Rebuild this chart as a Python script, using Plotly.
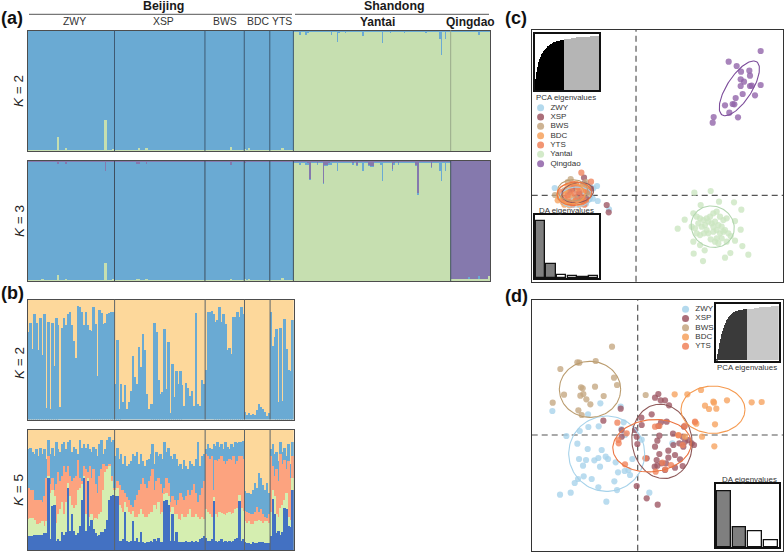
import numpy as np
import plotly.graph_objects as go

W, H = 784, 552
FONT = "Liberation Sans"

# ---------- group sizes ----------
group_names = ["ZWY", "XSP", "BWS", "BDC", "YTS", "Yantai", "Qingdao"]
group_sizes = [44, 46, 20, 13, 12, 80, 20]

# ---------- panel a, K=2 (percent) ----------
a2_green_beijing = ([0.7]*15 + [12] + [0.7]*3 + [2.5] + [0.7]*19 + [26] + [0.7]*3 + [2] +
                    [0.7]*12 + [3] + [0.7]*3 + [2.5] + [0.7]*29 +
                    [0.7]*13 + [3.5] + [0.7]*6 +
                    [2, 0.7, 2.5] + [0.7]*10 +
                    [0.7]*6 + [3] + [0.7]*5)
a2_blue_yantai = [1,1,1,3,1,1,3,2,1,1, 1,1,1,1,1,1,1,1,1,3, 1,1,9,2,1,1,2,1,1,1, 1,1,1,1,1,4,1,1,1,1,
                  1,1,1,1,1,10,1,1,1,2, 1,1,1,1,1,1,2,1,1,1, 1,1,1,1,1,1,1,2,1,1, 1,1,1,1,7,20,1,7,1,1]
a2_blue_qingdao = [1,1,1,1,1,1,1,1,1,1,1,1,1,1,3,1,1,1,1,1]

# ---------- panel a, K=3 (percent) ----------
a3_green_beijing = ([0.5]*7 + [1] + [0.5]*7 + [5] + [0.5]*3 + [1.5] + [0.5]*19 + [15] + [0.5]*3 + [2] +
                    [0.5]*11 + [2, 2] + [0.5]*3 + [2] + [0.5]*29 +
                    [0.5]*13 + [1.5] + [0.5]*6 +
                    [2, 0.5, 1.5] + [0.5]*10 +
                    [0.5]*6 + [2.5] + [0.5]*5)
a3_purple_beijing = ([0.7]*15 + [2.5] + [0.7]*3 + [2.5] + [0.7]*19 + [8] + [0.7]*4 +
                     [0.7]*11 + [2.5, 2.5] + [0.7]*3 + [2.5] + [0.7]*29 +
                     [0.7]*13 + [3] + [0.7]*6 +
                     [2] + [0.7]*12 + [0.7]*12)
a3_blue_yantai = [1,1,1,2,1,1,2,1,1,1, 1,1,1,1,1,1,1,1,1,2, 1,1,7,1,1,1,1,1,1,1, 1,1,1,1,1,7,1,1,1,1,
                  1,1,1,1,2,16,1,1,1,1, 1,1,1,1,1,1,1,1,1,1, 1,1,1,1,1,1,1,1,1,1, 1,1,1,1,7,16,1,7,1,1]
a3_purple_yantai = [1,1,1,1,1,1,1,2,15,1, 1,1,2,1,1,18,3,3,2,1, 1,1,1,1,1,1,1,1,1,1, 2,1,3,1,1,1,1,1,3,4,
                    4,1,1,1,1,1,1,1,1,1, 7,2,1,2,1,1,1,1,1,1, 1,1,3,27,1,1,1,1,1,1, 5,1,1,1,1,1,1,1,1,1]
a3_green_qingdao = [1,1,1,2,1,1,1,1,1,2,1,1,1,1,2,1,1,1,2,4]
a3_blue_qingdao = [0,0,0,0,0,0,0,0,0,1,0,0,0,0,2,0,0,0,0,0]

# ---------- panel b, K=2: blue height, percent ----------
b2_blue = [73,81,59,88,81,58,85,54,88,10,82,9,81,45,85,79,11,77,85,79,88,90,79,66,52,95,94,90,79,90,79,75,74,94,80,37,92,89,80,81,88,89,90,90,
           30,67,9,30,15,29,9,15,24,53,36,30,61,44,72,58,22,9,13,13,81,73,33,22,23,76,26,65,6,47,19,41,30,41,29,12,31,27,20,24,12,89,13,12,33,30,
           42,90,90,91,88,82,83,94,82,88,80,58,60,55,86,86,90,86,94,88,
           7,4,6,4,5,4,8,13,11,9,7,3,6,
           90,62,69,76,15,77,16,84,59,42,41,83]

# ---------- panel b, K=5: cumulative tops, percent ----------
b5_dark = [12,12,12,13,13,13,13,13,14,14,60,9,37,38,8,9,8,15,13,15,52,16,30,16,13,14,20,42,60,16,58,20,25,18,14,12,13,15,15,18,25,42,45,46,
           45,45,8,8,9,32,8,7,8,24,8,10,7,15,7,6,7,7,8,7,9,8,10,7,7,41,42,38,8,30,8,15,7,7,7,7,8,7,7,8,7,8,7,9,10,12,
           10,8,8,9,41,8,7,8,9,7,8,7,8,7,8,9,10,41,8,9,
           7,6,6,5,7,6,6,7,7,7,6,6,6,
           12,43,30,14,16,13,15,35,34,20,19,50]
b5_green = [26,27,27,25,22,22,23,24,20,24,62,48,50,45,23,30,34,40,30,40,56,45,38,35,38,50,52,55,62,30,60,28,30,25,27,26,30,32,50,65,68,70,58,50,
            50,52,38,35,32,40,36,32,30,33,28,28,30,34,30,28,28,30,32,32,38,34,40,30,32,47,48,45,32,36,30,30,26,25,30,28,28,30,34,28,28,30,28,26,28,26,
            34,32,30,28,44,30,28,32,31,30,29,31,32,30,31,34,35,46,35,33,
            24,23,24,22,22,24,24,25,24,23,24,24,23,
            32,50,45,30,28,35,38,42,48,28,25,60]
b5_salmon = [52,50,50,42,42,42,42,40,45,60,78,55,60,50,55,65,58,62,70,65,70,62,58,60,62,75,60,58,70,68,65,70,60,68,55,48,62,68,72,70,70,72,62,52,
             52,58,54,50,50,48,44,42,38,36,42,46,50,55,60,55,52,58,62,68,50,58,60,55,48,52,60,56,40,45,42,38,42,48,44,42,45,50,46,50,55,48,40,46,52,58,
             80,78,76,78,50,75,74,76,78,74,72,74,76,75,78,72,74,78,78,76,
             33,32,31,30,30,32,36,32,34,30,28,27,30,
             78,70,62,68,58,80,72,75,68,74,60,78]
b5_blue = [84,85,82,80,84,78,85,80,84,76,92,80,85,78,90,84,82,88,90,84,90,92,82,86,84,80,92,85,88,85,88,84,82,86,84,78,88,92,80,84,92,94,90,92,
           78,85,76,80,72,78,70,72,74,80,78,82,72,80,74,70,75,76,80,88,72,82,78,80,76,90,82,85,78,76,80,76,70,72,68,75,70,68,74,72,70,76,90,70,78,80,
           84,88,85,84,88,87,90,86,88,84,90,86,84,88,86,90,89,90,90,91,
           49,48,48,47,50,56,52,64,60,54,50,56,48,
           84,88,80,82,74,90,82,85,78,88,72,90]

# ---------- panel c: DA scores ----------
c_zwy_x = [-244,-117,-115,-81,-128,-138,-190,-150,-170,-130,-180,-200,-160,-140,-165]
c_zwy_y = [22,28,-17,-42,21,26,-10,-25,-22,-10,15,-5,10,-12,-15]
c_xsp_x = [-88,-82,-156,-155,-170,-190,-145,-175,-150,-200,-135,-185]
c_xsp_y = [-29,-51,53,35,5,20,10,-5,-8,10,20,30]
c_bws_x = [-196,-243,-205,-160,-150,-215,-180,-140]
c_bws_y = [49,1,40,30,40,15,-8,5]
c_bdc_x = [-235,-225,-230,-220,-215,-200,-190,-185,-215,-210,-205,-195,-180,-170,-160,-205,-195,-175,-165,-155,-145,-210]
c_bdc_y = [-15,-10,-5,-20,-28,-30,-25,-18,5,15,25,30,35,-28,-20,-10,0,20,25,15,25,-18]
c_yts_x = [-164,-135,-190,-225,-180,-200,-170,-160,-150,-195,-185,-175,-165,-205,-215,-150,-155,-190]
c_yts_y = [68,41,35,10,-15,-20,10,-5,15,15,5,25,-10,0,-10,-18,-28,-28]
c_yan_x = [175,224,194,249,294,316,146,125,172,182,192,202,212,222,232,242,252,262,272,297,314,167,177,187,197,207,217,227,237,247,257,267,277,284,192,204,217,232,242,252,262,172,192,224,237,247,257,272,297,319,173,206,201,267,283,337,232,212,182,242]
c_yan_y = [8,13,-29,-19,-21,-43,-73,-100,-54,-64,-69,-74,-69,-64,-54,-49,-64,-74,-69,-77,-103,-94,-99,-84,-94,-89,-79,-84,-79,-89,-94,-104,-114,-122,-119,-114,-114,-109,-104,-114,-109,-139,-149,-132,-139,-144,-129,-139,-136,-152,-175,-165,-197,-187,-173,-178,-94,-104,-114,-129]
c_qin_x = [374,278,302,340,315,342,314,324,314,342,374,347,320,357,299,290,295,267,280,306,233,230]
c_qin_y = [433,401,388,374,371,359,348,341,328,328,331,329,304,300,292,274,273,270,248,234,235,218]

# ---------- panel d: DA scores ----------
d_zwy_x = [-256,-112,-149,-214,-174,-148,-117,-42,-181,-150,-108,12,104,-176,-155,-130,-118,-96,-89,-66,-16,-164,-113,-59,-39,-28,-23,-162,-138,-179,-189,-70,-118,-62,-233,-201,-94,35,-38,-49,-8,-51]
d_zwy_y = [72,95,62,-3,12,24,26,38,-26,-42,-45,-14,-25,-72,-75,-76,-69,-65,-72,-82,-72,-92,-95,-112,-108,-105,-120,-124,-132,-132,-144,-139,-157,-165,-179,-173,-200,-173,0,18,15,85]
d_xsp_x = [-51,62,52,69,82,94,11,42,-103,87,70,62,12,-8,-48,-48,139,106,65,59,52,125,135,142,152,162,169,137,107,92,112,65,57,92,59,51,72,85,112,135,127,82,-3,27,60,-1,27,-3]
d_xsp_y = [79,123,112,104,104,89,52,62,43,40,38,27,30,15,15,-5,25,4,-2,-17,-35,-25,-5,-20,-15,-25,-30,-35,-30,-47,-60,-57,-75,-68,-92,-95,-85,-85,-98,-93,-73,-105,-153,-190,-209,-27,-70,-5]
d_bws_x = [-77,-181,-175,-126,-232,-71,-62,-170,-165,-128,-221,-172,-163,-102,-154,-142,-255,-178,-168,24]
d_bws_y = [265,218,217,222,198,172,150,143,140,145,121,118,123,117,107,92,97,74,60,120]
d_bdc_x = [111,149,190,227,229,268,202,214,236,342,372,172,176,232,193,230,122,142]
d_bdc_y = [122,122,135,100,97,104,88,78,79,98,99,38,34,32,-5,-34,0,-5]
d_yts_x = [-61,-58,-57,-38,23,54,83,74,100,135,122,65,172,142,52,-33]
d_yts_y = [37,-15,-25,-88,-70,-110,-103,-83,-90,-30,-1,27,40,28,25,5]

# ---------- ellipses: centre x, centre y, semi-axes, rotation ----------
c_ell = {"ZWY": (-180,-5,50,30,5), "XSP": (-175,8,48,30,10), "BWS": (-190,15,45,32,0), "BDC": (-195,5,42,30,0),
         "YTS": (-185,5,52,35,5), "Yantai": (230,-94,66,61,-30), "Qingdao": (310,321,95,37,57)}
d_ell = {"ZWY": (-93,-56,114,113,0), "XSP": (73,-19,112,90,99), "BWS": (-143,137,92,84,0),
         "BDC": (226,76,96,71,0), "YTS": (43,-32,118,78,6)}

# ---------- insets ----------
c_pca_vals = [5,20,32,42,50,56,60,64,67,70,72,74,76,78,79,80,82,83,84,85,85,86,87,87,88,88,89,89,90,90,
              91,91,91,92,92,92,92,93,93,93,93,93,94,94,94,94,94,94,95,95,95,95,95,95,95,95,96,96,96,96,96,96,96,96,96]
c_pca_kept = 30
c_da_vals = [170,41,10,5,3,6]
c_da_kept = 2
d_pca_vals = [3,12,20,30,38,46,52,58,63,67,71,74,77,79,81,83,84,85,86,87,88,88,89,89,90,90,91,91,91,91,
              91,91,92,92,92,92,92,93,93,93,93,93,94,94,94,94,94,95,95,95,95,95,95,96,96,96,96,96,96,97]
d_pca_kept = 30
d_da_vals = [168,58,46,20]
d_da_kept = 2

leg_c = ["ZWY","XSP","BWS","BDC","YTS","Yantai","Qingdao"]
leg_d = ["ZWY","XSP","BWS","BDC","YTS"]

C = dict(blue="#6aaad3", green="#c6dfb0", purple="#8579ad", yellow="#fdd89b", dark="#4371c2",
         salmon="#fca37f", lgreen="#d5eeb0")
PT = {"ZWY":"#a6d2ea","XSP":"#9c5562","BWS":"#c4a680","BDC":"#f6a15d","YTS":"#f0825a","Yantai":"#cbe6c0","Qingdao":"#8f62a8"}
ELC = {"ZWY":"#a6d2ea","XSP":"#8f5a5a","BWS":"#bb9d70","BDC":"#f59a50","YTS":"#ec7440","Yantai":"#b3d6b0","Qingdao":"#7c4c9a"}

fig = go.Figure()
layout = {}
shapes, annots = [], []
ax_n = [0]


def add_axes(x0, x1, y0, y1, xr, yr, line="#4d4d4d", lw=1, show=True, cat=False):
    ax_n[0] += 1
    n = ax_n[0]
    s = "" if n == 1 else str(n)
    common = dict(showgrid=False, zeroline=False, showticklabels=False, ticks="", fixedrange=True,
                  showline=show, mirror=show, linecolor=line, linewidth=lw)
    layout["xaxis"+s] = dict(domain=[x0/W, x1/W], range=xr, anchor="y"+s, **common)
    layout["yaxis"+s] = dict(domain=[1-y1/H, 1-y0/H], range=yr, anchor="x"+s, **common)
    if cat:
        layout["yaxis"+s]["type"] = "category"
    return "x"+s, "y"+s


def bars(xa, ya, vals, color):
    fig.add_trace(go.Bar(x=list(range(len(vals))), y=vals, width=1.0, marker=dict(color=color, line=dict(width=0)),
                         xaxis=xa, yaxis=ya, showlegend=False, hoverinfo="skip"))


def seps(xa, ya, sizes, color, lw=1, colors=None):
    pos = np.cumsum(sizes)[:-1] - 0.5
    for i, p in enumerate(pos):
        shapes.append(dict(type="line", xref=xa, yref=ya+" domain", x0=p, x1=p, y0=0, y1=1,
                           line=dict(color=colors[i] if colors else color, width=lw), layer="above"))


def text(x, y, t, size, bold=False, color="#1a1a1a", angle=0, anchor="center"):
    if bold:
        t = "<b>"+t+"</b>"
    annots.append(dict(x=x/W, y=1-y/H, xref="paper", yref="paper", text=t, showarrow=False, xanchor=anchor,
                       yanchor="middle", textangle=angle, font=dict(family=FONT, size=size, color=color)))


def ellipse(xa, ya, par, color):
    cx, cy, a, b, ang = par
    t = np.linspace(0, 2*np.pi, 120)
    r = np.radians(ang)
    ex = cx + a*np.cos(t)*np.cos(r) - b*np.sin(t)*np.sin(r)
    ey = cy + a*np.cos(t)*np.sin(r) + b*np.sin(t)*np.cos(r)
    fig.add_trace(go.Scatter(x=ex, y=ey, mode="lines", line=dict(color=color, width=1.1), xaxis=xa, yaxis=ya,
                             showlegend=False, hoverinfo="skip"))


def points(xa, ya, xs, ys, color):
    fig.add_trace(go.Scatter(x=xs, y=ys, mode="markers", marker=dict(color=color, size=6.2, opacity=0.78, line=dict(width=0)),
                             xaxis=xa, yaxis=ya, showlegend=False, hoverinfo="skip"))


def pca_inset(box, vals, kept, c1, c2):
    xa, ya = add_axes(*box, [-0.5, len(vals)-0.5], [0, 100], line="#111111", lw=1.6)
    fig.add_trace(go.Bar(x=list(range(len(vals))), y=vals, width=1.0,
                         marker=dict(color=[c1]*kept+[c2]*(len(vals)-kept), line=dict(width=0)),
                         xaxis=xa, yaxis=ya, showlegend=False, hoverinfo="skip"))


def da_inset(box, vals, kept, ymax, x_pad):
    xa, ya = add_axes(*box, [-0.5-x_pad, len(vals)-0.5+x_pad], [-1, ymax], line="#111111", lw=1.6)
    fig.add_trace(go.Bar(x=list(range(len(vals))), y=vals, width=0.86,
                         marker=dict(color=["#7f7f7f"]*kept+["#ffffff"]*(len(vals)-kept), line=dict(color="#111111", width=1.3)),
                         xaxis=xa, yaxis=ya, showlegend=False, hoverinfo="skip"))


def dot_legend(box, names, x_range, size):
    xa, ya = add_axes(*box, x_range, [len(names)-0.5, -0.5], show=False, cat=True)
    fig.add_trace(go.Scatter(x=[0]*len(names), y=names, mode="markers+text", text=["  "+n for n in names], textposition="middle right",
                             textfont=dict(family=FONT, size=size, color="#333333"),
                             marker=dict(color=[PT[n] for n in names], size=7, opacity=0.85),
                             xaxis=xa, yaxis=ya, showlegend=False, hoverinfo="skip", cliponaxis=False))


total = sum(group_sizes)
xr_all = [-0.5, total-0.5]

# --- panel a K=2
xa, ya = add_axes(28, 490, 30.5, 151, xr_all, [0, 100])
a2_green = a2_green_beijing + [100-v for v in a2_blue_yantai] + [100-v for v in a2_blue_qingdao]
bars(xa, ya, [100]*total, C["blue"])
bars(xa, ya, a2_green, C["green"])
seps(xa, ya, group_sizes, "#3e5a73", colors=["#3e5a73"]*5+["#9aaa8c"])

# --- panel a K=3
xa, ya = add_axes(28, 490, 161, 281, xr_all, [0, 100])
a3_purple = [100]*total
a3_bluecum = [100-v for v in a3_purple_beijing] + [100-v for v in a3_purple_yantai] + [g+b for g, b in zip(a3_green_qingdao, a3_blue_qingdao)]
a3_green = a3_green_beijing + [100-p-b for p, b in zip(a3_purple_yantai, a3_blue_yantai)] + a3_green_qingdao
bars(xa, ya, a3_purple, C["purple"])
bars(xa, ya, a3_bluecum, C["blue"])
bars(xa, ya, a3_green, C["green"])
seps(xa, ya, group_sizes, "#3e4f5f")

# --- panel b
bj = group_sizes[:5]
xr_b = [-0.5, sum(bj)-0.5]
xa, ya = add_axes(28, 293.7, 299.5, 419.5, xr_b, [0, 100])
bars(xa, ya, [100]*sum(bj), C["yellow"])
bars(xa, ya, b2_blue, C["blue"])
seps(xa, ya, bj, "#5d6468")

xa, ya = add_axes(28, 293.7, 429.7, 550, xr_b, [0, 100])
bars(xa, ya, [100]*sum(bj), C["yellow"])
bars(xa, ya, b5_blue, C["blue"])
bars(xa, ya, b5_salmon, C["salmon"])
bars(xa, ya, b5_green, C["lgreen"])
bars(xa, ya, b5_dark, C["dark"])
seps(xa, ya, bj, "#5d6468")

# --- panel c
xa, ya = add_axes(531.7, 783, 30, 281.7, [-313, 441], [-259, 496], line="#333333", lw=1.1)
shapes.append(dict(type="line", xref=xa+" domain", yref=ya, x0=0, x1=1, y0=0, y1=0, layer="below",
                   line=dict(color="#555555", width=1.2, dash="6px,4px")))
shapes.append(dict(type="line", xref=xa, yref=ya+" domain", x0=0, x1=0, y0=0, y1=1, layer="below",
                   line=dict(color="#555555", width=1.2, dash="6px,4px")))
for nm, px, py in (("ZWY", c_zwy_x, c_zwy_y), ("XSP", c_xsp_x, c_xsp_y), ("BWS", c_bws_x, c_bws_y), ("BDC", c_bdc_x, c_bdc_y),
                   ("YTS", c_yts_x, c_yts_y), ("Yantai", c_yan_x, c_yan_y), ("Qingdao", c_qin_x, c_qin_y)):
    points(xa, ya, px, py, PT[nm])
for nm, par in c_ell.items():
    ellipse(xa, ya, par, ELC[nm])
pca_inset((535, 599, 33.7, 90), c_pca_vals, c_pca_kept, "#000000", "#b5b5b5")
da_inset((535, 599, 215, 278.3), c_da_vals, c_da_kept, 188, 0.0)
dot_legend((536, 575, 103, 168.3), leg_c, [-1, 7.5], 8)

# --- panel d
xa, ya = add_axes(531.7, 783, 300, 550.7, [-318, 436], [-347, 405], line="#333333", lw=1.1)
shapes.append(dict(type="line", xref=xa+" domain", yref=ya, x0=0, x1=1, y0=0, y1=0, layer="below",
                   line=dict(color="#555555", width=1.2, dash="6px,4px")))
shapes.append(dict(type="line", xref=xa, yref=ya+" domain", x0=0, x1=0, y0=0, y1=1, layer="below",
                   line=dict(color="#555555", width=1.2, dash="6px,4px")))
for nm, px, py in (("ZWY", d_zwy_x, d_zwy_y), ("XSP", d_xsp_x, d_xsp_y), ("BWS", d_bws_x, d_bws_y), ("BDC", d_bdc_x, d_bdc_y), ("YTS", d_yts_x, d_yts_y)):
    points(xa, ya, px, py, PT[nm])
for nm, par in d_ell.items():
    ellipse(xa, ya, par, ELC[nm])
pca_inset((716, 778.7, 304.3, 360.7), d_pca_vals, d_pca_kept, "#3a3a3a", "#c8c8c8")
da_inset((716, 778.7, 484.3, 547.3), d_da_vals, d_da_kept, 188, 0.0)
dot_legend((682, 712, 304.5, 351), leg_d, [-1, 7.5], 8)

# --- texts
text(12, 18, "(a)", 18, True, "#111111")
text(12, 293, "(b)", 18, True, "#111111")
text(516, 18, "(c)", 18, True, "#111111")
text(516, 296, "(d)", 18, True, "#111111")
text(163.7, 6, "Beijing", 12.4, True)
text(394, 6, "Shandong", 12.4, True)
for lab, x in (("ZWY", 74), ("XSP", 163), ("BWS", 225), ("BDC", 258), ("YTS", 282)):
    text(x, 22, lab, 10.4, False, "#333333")
text(377, 22, "Yantai", 12, True)
text(470.7, 22, "Qingdao", 12, True)
for y, lab in ((91, "<i>K</i> = 2"), (221, "<i>K</i> = 3"), (363, "<i>K</i> = 2"), (490, "<i>K</i> = 5")):
    text(19, y, lab, 13.5, False, "#222222", angle=-90)
text(565.7, 97, "PCA eigenvalues", 7.9, False, "#333333")
text(566, 210.3, "DA eigenvalues", 7.9, False, "#333333")
text(746.7, 367.3, "PCA eigenvalues", 7.9, False, "#333333")
text(749.3, 479, "DA eigenvalues", 7.9, False, "#333333")
for x0, x1 in ((29, 292), (295, 489)):
    shapes.append(dict(type="line", xref="paper", yref="paper", x0=x0/W, x1=x1/W, y0=1-14.3/H, y1=1-14.3/H,
                       line=dict(color="#555555", width=1)))

fig.update_layout(width=W, height=H, margin=dict(l=0, r=0, t=0, b=0), paper_bgcolor="white", plot_bgcolor="rgba(0,0,0,0)",
                  barmode="overlay", bargap=0, showlegend=False, font=dict(family=FONT), shapes=shapes, annotations=annots,
                  **layout)
fig.write_html("out.html", config={"displayModeBar": False},
               post_script="document.body.style.margin='0';")
